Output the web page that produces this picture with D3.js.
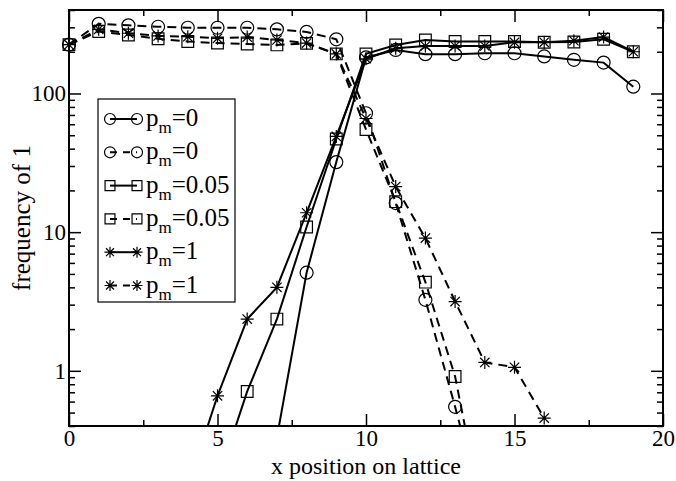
<!DOCTYPE html>
<meta charset="utf-8">
<style>
html,body {
  margin: 0px;
  padding: 0px;
  overflow: hidden;
  background-color: white;
}
text {
  font-family: "Liberation Serif", "Times New Roman", serif;
  fill: black;
}
.tick line {
  stroke: black;
  stroke-width: 1.5px;
}
.tick text {
  font-size: 23px;
}
</style>
<body>
<svg></svg>
</body>
<script src="https://d3js.org/d3.v7.min.js"></script>
<script>

// lattice positions
var xPositions = [0, 1, 2, 3, 4, 5, 6, 7, 8, 9, 10, 11, 12, 13, 14, 15, 16, 17, 18, 19];

// frequency of 1 (null = nothing drawn)
var pm0Solid = [null, null, null, null, null, null, null, 0.33, 5.1, 32, 182, 206, 192, 192, 195, 195, 185, 175, 167, 112];
var pm0Dashed = [225, 318, 310, 303, 298, 298, 298, 290, 278, 246, 72, 16.2, 3.25, 0.55, 0.085, null, null, null, null, null];
var pm005Solid = [null, null, null, null, null, 0.16, 0.71, 2.36, 10.9, 47, 193, 224, 243, 237, 237, 237, 234, 235, 246, 200];
var pm005Dashed = [225, 280, 264, 248, 237, 231, 227, 224, 230, 193, 55, 16.6, 4.36, 0.91, 0.075, null, null, null, null, null];
var pm1Solid = [null, null, null, null, 0.145, 0.66, 2.36, 4.0, 13.8, 49, 178, 212, 220, 220, 220, 234, 234, 240, 255, 200];
var pm1Dashed = [225, 290, 272, 260, 257, 250, 255, 243, 231, 193, 66, 21.3, 9.06, 3.16, 1.15, 1.06, 0.456, null, null, null];

var legendLabels = ["0", "0", "0.05", "0.05", "1", "1"];

var xTicks = [0, 5, 10, 15, 20];
var xMinorTicks = [2.5, 7.5, 12.5, 17.5];
var yTicks = [1, 10, 100];

var series = [
  {values: pm0Solid, symbol: "circle", dashed: false},
  {values: pm0Dashed, symbol: "circle", dashed: true},
  {values: pm005Solid, symbol: "square", dashed: false},
  {values: pm005Dashed, symbol: "square", dashed: true},
  {values: pm1Solid, symbol: "star", dashed: false},
  {values: pm1Dashed, symbol: "star", dashed: true}
];

var W = 676, H = 481;
var pLeft = 69, pRight = 663, pTop = 10, pBottom = 426;

var svg = d3.select("svg").attr("width", W).attr("height", H);

var x = d3.scaleLinear().domain([0, 20]).range([pLeft, pRight]);
var y = d3.scaleLog().domain([0.4, 400]).range([pBottom, pTop]);

var yMinor = y.ticks().filter(function(d) { return yTicks.indexOf(d) < 0; });

svg.append("clipPath").attr("id", "plot")
  .append("rect")
  .attr("x", pLeft).attr("y", pTop)
  .attr("width", pRight - pLeft).attr("height", pBottom - pTop);

function symbolPath(kind, r) {
  if (kind == "circle") {
    return "M" + (-r) + ",0A" + r + "," + r + " 0 1,0 " + r + ",0A" + r + "," + r + " 0 1,0 " + (-r) + ",0Z";
  }
  if (kind == "square") {
    var s = r * 0.9;
    return "M" + (-s) + "," + (-s) + "H" + s + "V" + s + "H" + (-s) + "Z";
  }
  var d = r * 0.72;
  return "M" + (-r) + ",0H" + r + "M0," + (-r) + "V" + r +
    "M" + (-d) + "," + (-d) + "L" + d + "," + d +
    "M" + (-d) + "," + d + "L" + d + "," + (-d);
}

// lines
var line = d3.line()
  .defined(function(d) { return d != null; })
  .x(function(d, i) { return x(xPositions[i]); })
  .y(function(d) { return y(d); });

var lines = svg.append("g").attr("clip-path", "url(#plot)");
series.forEach(function(s) {
  lines.append("path")
    .attr("d", line(s.values))
    .attr("fill", "none")
    .attr("stroke", "black")
    .attr("stroke-width", 2)
    .attr("stroke-dasharray", s.dashed ? "9,6" : null);
});

// markers
series.forEach(function(s) {
  var pts = s.values.map(function(v, i) { return {x: xPositions[i], v: v}; })
    .filter(function(p) { return p.v != null && p.v >= 0.4; });
  svg.append("g").selectAll("path")
    .data(pts)
    .enter().append("path")
    .attr("transform", function(p) { return "translate(" + x(p.x) + "," + y(p.v) + ")"; })
    .attr("d", symbolPath(s.symbol, 6.5))
    .attr("fill", "none")
    .attr("stroke", "black")
    .attr("stroke-width", 1.2);
});

// axes, ticks pointing inward
function clean(g) {
  g.select(".domain").remove();
}

svg.append("g").attr("transform", "translate(0," + pBottom + ")")
  .call(d3.axisBottom(x).tickValues(xTicks).tickSize(-12).tickPadding(4).tickFormat(d3.format("d")))
  .call(clean);
svg.append("g").attr("transform", "translate(0," + pBottom + ")")
  .call(d3.axisBottom(x).tickValues(xMinorTicks).tickSize(-6).tickFormat(""))
  .call(clean);
svg.append("g").attr("transform", "translate(0," + pTop + ")")
  .call(d3.axisTop(x).tickValues(xTicks).tickSize(-12).tickFormat(""))
  .call(clean);
svg.append("g").attr("transform", "translate(0," + pTop + ")")
  .call(d3.axisTop(x).tickValues(xMinorTicks).tickSize(-6).tickFormat(""))
  .call(clean);

svg.append("g").attr("transform", "translate(" + pLeft + ",0)")
  .call(d3.axisLeft(y).tickValues(yTicks).tickSize(-12).tickPadding(3).tickFormat(d3.format("d")))
  .call(clean);
svg.append("g").attr("transform", "translate(" + pLeft + ",0)")
  .call(d3.axisLeft(y).tickValues(yMinor).tickSize(-6).tickFormat(""))
  .call(clean);
svg.append("g").attr("transform", "translate(" + pRight + ",0)")
  .call(d3.axisRight(y).tickValues(yTicks).tickSize(-12).tickFormat(""))
  .call(clean);
svg.append("g").attr("transform", "translate(" + pRight + ",0)")
  .call(d3.axisRight(y).tickValues(yMinor).tickSize(-6).tickFormat(""))
  .call(clean);

svg.append("rect")
  .attr("x", pLeft).attr("y", pTop)
  .attr("width", pRight - pLeft).attr("height", pBottom - pTop)
  .attr("fill", "none")
  .attr("stroke", "black")
  .attr("stroke-width", 2);

// axis titles
svg.append("text")
  .attr("x", (pLeft + pRight) / 2)
  .attr("y", 474)
  .attr("text-anchor", "middle")
  .attr("font-size", 24)
  .text("x position on lattice");

svg.append("text")
  .attr("transform", "translate(30," + ((pTop + pBottom) / 2) + ") rotate(-90)")
  .attr("text-anchor", "middle")
  .attr("font-size", 25)
  .text("frequency of 1");

// legend
var legend = svg.append("g");
legend.append("rect")
  .attr("x", 98).attr("y", 99)
  .attr("width", 137).attr("height", 203)
  .attr("fill", "white")
  .attr("stroke", "black")
  .attr("stroke-width", 1.2);

series.forEach(function(s, i) {
  var cy = 119 + i * 33.3;
  var row = legend.append("g").attr("transform", "translate(0," + cy + ")");
  row.append("line")
    .attr("x1", 110).attr("x2", 137)
    .attr("stroke", "black")
    .attr("stroke-width", 2)
    .attr("stroke-dasharray", s.dashed ? "7,6" : null);
  [110, 137].forEach(function(mx) {
    row.append("path")
      .attr("transform", "translate(" + mx + ",0)")
      .attr("d", symbolPath(s.symbol, 5.5))
      .attr("fill", "none")
      .attr("stroke", "black")
      .attr("stroke-width", 1.2);
  });
  var t = row.append("text").attr("x", 146).attr("y", 7).attr("font-size", 25);
  t.append("tspan").text("p");
  t.append("tspan").attr("font-size", 17).attr("dy", 7).text("m");
  t.append("tspan").attr("dy", -7).text("=" + legendLabels[i]);
});

</script>
